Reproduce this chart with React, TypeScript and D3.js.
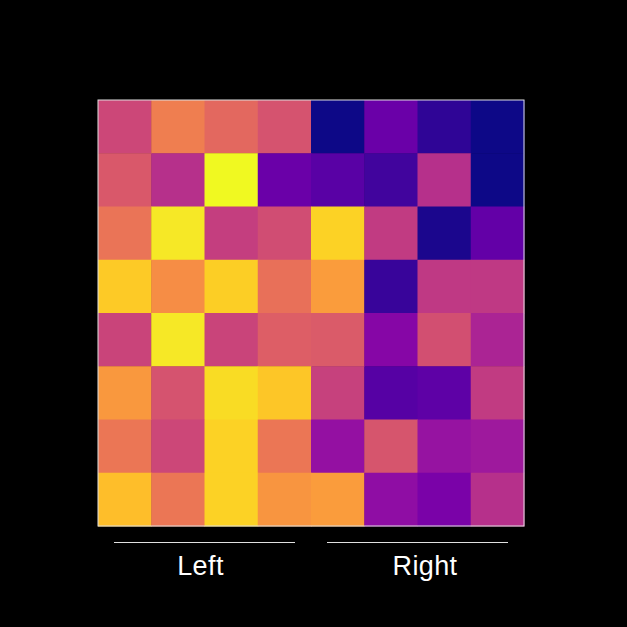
import * as d3 from "d3";
import React from "react";

// rows top -> bottom, values in [0, 1] on the plasma scale
const rowLabels = ["r0", "r1", "r2", "r3", "r4", "r5", "r6", "r7"];
const colLabels = ["c0", "c1", "c2", "c3", "c4", "c5", "c6", "c7"];
const values = [
  [0.5, 0.68, 0.61, 0.54, 0.0, 0.2, 0.06, 0.0],
  [0.56, 0.42, 1.0, 0.2, 0.16, 0.1, 0.42, 0.0],
  [0.65, 0.96, 0.47, 0.52, 0.91, 0.46, 0.02, 0.18],
  [0.89, 0.73, 0.9, 0.64, 0.77, 0.08, 0.45, 0.45],
  [0.49, 0.96, 0.49, 0.58, 0.57, 0.27, 0.53, 0.38],
  [0.76, 0.54, 0.93, 0.88, 0.48, 0.15, 0.17, 0.46],
  [0.66, 0.5, 0.91, 0.66, 0.31, 0.55, 0.32, 0.34],
  [0.86, 0.66, 0.91, 0.75, 0.77, 0.3, 0.24, 0.42],
];
const groups = [
  { label: "Left", from: "c0", to: "c3", shift: -4 },
  { label: "Right", from: "c4", to: "c7", shift: 7.5 },
];

const App = () => {
  const width = 627;
  const height = 627;
  const left = 98;
  const top = 100;
  const size = 426;

  const x = d3.scaleBand().domain(colLabels).range([left, left + size]);
  const y = d3.scaleBand().domain(rowLabels).range([top, top + size]);
  const color = d3.scaleSequential(d3.interpolatePlasma).domain([0, 1]);

  return (
    <svg
      width={width}
      height={height}
      style={{ position: "absolute", left: 0, top: 0, background: "#000" }}
    >
      <rect width={width} height={height} fill="#000" />
      {values.map((row, i) =>
        row.map((v, j) => (
          <rect
            key={i + "-" + j}
            x={x(colLabels[j])}
            y={y(rowLabels[i])}
            width={x.bandwidth() + 0.5}
            height={y.bandwidth() + 0.5}
            fill={color(v)}
          />
        ))
      )}
      <rect
        x={left}
        y={top}
        width={size}
        height={size}
        fill="none"
        stroke="#e0e0e0"
        strokeWidth={1}
      />
      {groups.map((g) => {
        const x0 = x(g.from)!;
        const x1 = x(g.to)! + x.bandwidth();
        const cx = (x0 + x1) / 2 + g.shift;
        return (
          <g key={g.label}>
            <line
              x1={x0 + 16}
              x2={x1 - 16}
              y1={542.5}
              y2={542.5}
              stroke="#e0e0e0"
              strokeWidth={1}
            />
            <text
              x={cx}
              y={575}
              fill="#fff"
              fontSize={27}
              letterSpacing={0.4}
              textAnchor="middle"
              fontFamily="Liberation Sans, Arial, sans-serif"
            >
              {g.label}
            </text>
          </g>
        );
      })}
    </svg>
  );
};

export default App;
